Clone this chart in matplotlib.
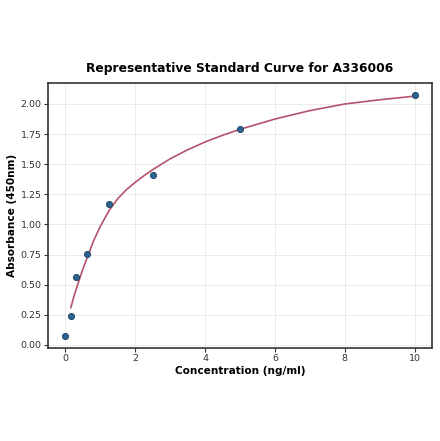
import matplotlib
matplotlib.use("Agg")
import matplotlib.pyplot as plt

# standards
conc = [0, 0.156, 0.3125, 0.625, 1.25, 2.5, 5, 10]
absorb = [0.075, 0.24, 0.56, 0.755, 1.17, 1.41, 1.795, 2.075]

# fitted curve
curve_x = [0.156, 0.25, 0.35, 0.5, 0.65, 0.8, 1.0, 1.25, 1.5, 1.75, 2.0, 2.25,
           2.5, 3.0, 3.5, 4.0, 4.5, 5.0, 6.0, 7.0, 8.0, 9.0, 10.0]
curve_y = [0.31, 0.41, 0.50, 0.63, 0.745, 0.86, 0.985, 1.115, 1.215, 1.29, 1.35, 1.405,
           1.455, 1.545, 1.62, 1.685, 1.74, 1.79, 1.875, 1.945, 2.0, 2.035, 2.065]

TITLE = "Representative Standard Curve for A336006"
XLABEL = "Concentration (ng/ml)"
YLABEL = "Absorbance (450nm)"

fig = plt.figure(figsize=(4.4, 4.41), dpi=100)
ax = fig.add_axes([0.109, 0.211, 0.873, 0.601])

ax.plot(curve_x, curve_y, color="#b5536b", lw=1.2, zorder=2)
ax.scatter(conc, absorb, s=20, color="#2b6394", edgecolor="#1f3f5e",
           linewidth=0.6, zorder=3)

ax.set_xlim(-0.5, 10.5)
ax.set_ylim(-0.025, 2.175)
ax.set_xticks([0, 2, 4, 6, 8, 10])
ax.set_yticks([0, 0.25, 0.5, 0.75, 1.0, 1.25, 1.5, 1.75, 2.0])
ax.set_yticklabels([f"{v:.2f}" for v in ax.get_yticks()])

ax.grid(True, color="#e8e8e8", lw=0.6)
ax.set_axisbelow(True)
for s in ax.spines.values():
    s.set_color("#333333")
    s.set_linewidth(1.2)
ax.tick_params(labelsize=6.8, colors="#333333", length=3, pad=1.5)

ax.set_title(TITLE, fontsize=8.8, fontweight="bold", pad=8)
ax.set_xlabel(XLABEL, fontsize=7.6, fontweight="bold", labelpad=2)
ax.set_ylabel(YLABEL, fontsize=7.6, fontweight="bold", labelpad=3)

fig.savefig("out.png", dpi=100)
